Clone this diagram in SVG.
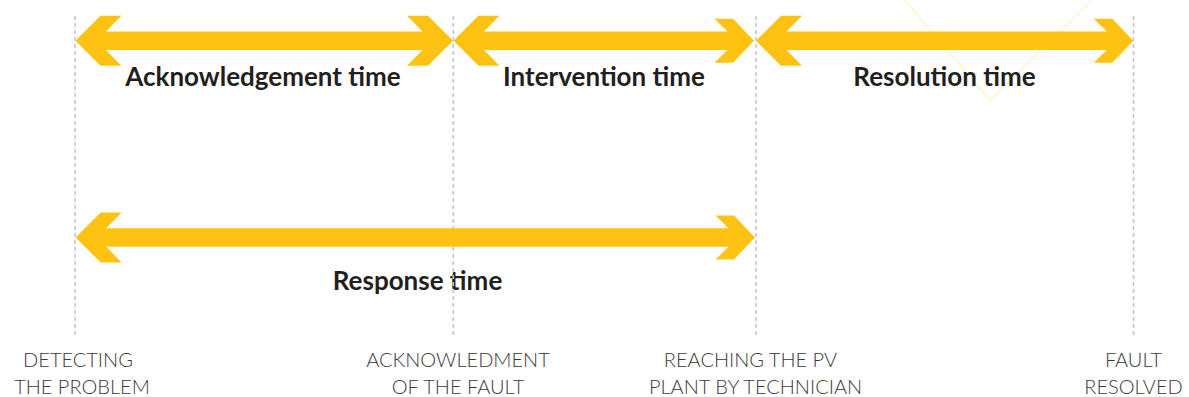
<svg xmlns="http://www.w3.org/2000/svg" width="1189" height="397" viewBox="0 0 1189 397">
<style>
.bg{fill:#ffffff}
.deco{fill:none;stroke:#fff3c6;stroke-width:1.2}
.guide{stroke:#c6c6c6;stroke-width:1.6;stroke-dasharray:4 3;fill:none}
.arrow{fill:#fec312}
.lbl{font-family:Lato,"Open Sans","Liberation Sans",sans-serif;font-weight:700;font-size:26px;fill:#231f20;text-anchor:middle}
.ev{font-family:Lato,"Open Sans","Liberation Sans",sans-serif;font-weight:300;font-size:20px;fill:#3a3a3a;text-anchor:middle}
</style>
<rect class="bg" x="0" y="0" width="1189" height="397"/>
<polyline class="deco" points="905,0 990,100 1092,0"/>
<g id="labels">
<text class="lbl" x="263" y="86">Acknowledgement time</text>
<text class="lbl" x="604" y="86">Intervention time</text>
<text class="lbl" x="944.5" y="86">Resolution time</text>
<text class="lbl" x="417.5" y="290">Response time</text>
</g>
<g id="connectors">
<line class="guide" x1="75" y1="16" x2="75" y2="336"/>
<line class="guide" x1="453.3" y1="16" x2="453.3" y2="336"/>
<line class="guide" x1="756" y1="16" x2="756" y2="336"/>
<line class="guide" x1="1133.5" y1="16" x2="1133.5" y2="336"/>
</g>
<g id="acknowledgement-arrow">
<polygon class="arrow" points="75.5,40.8 100.5,15.8 121.5,15.8 106,31.6 422.5,31.6 407,15.8 428,15.8 453,40.8 428,65.8 407,65.8 422.5,50 106,50 121.5,65.8 100.5,65.8"/>
</g>
<g id="intervention-arrow">
<polygon class="arrow" points="453.5,40.8 478.5,15.8 499.5,15.8 484,31.6 727.5,31.6 714.5,18.8 733,18.8 754,40.8 733,62.8 714.5,62.8 727.5,50 484,50 499.5,65.8 478.5,65.8"/>
</g>
<g id="resolution-arrow">
<polygon class="arrow" points="756,40.8 781,15.8 802,15.8 786.5,31.6 1106.8,31.6 1093.8,18.8 1112.3,18.8 1133.3,40.8 1112.3,62.8 1093.8,62.8 1106.8,50 786.5,50 802,65.8 781,65.8"/>
</g>
<g id="response-arrow">
<polygon class="arrow" points="75.7,237.5 100.7,212.5 121.7,212.5 106.2,228.3 728.5,228.3 715.5,215.5 734,215.5 755,237.5 734,259.5 715.5,259.5 728.5,246.7 106.2,246.7 121.7,262.5 100.7,262.5"/>
</g>
<g id="event-detecting">
<text class="ev" x="78" y="367"><tspan x="78">DETECTING</tspan><tspan x="82" dy="27">THE PROBLEM</tspan></text>
</g>
<g id="event-acknowledgment">
<text class="ev" x="458" y="367"><tspan x="458">ACKNOWLEDMENT</tspan><tspan x="458" dy="27">OF THE FAULT</tspan></text>
</g>
<g id="event-reaching">
<text class="ev" x="750.5" y="367"><tspan x="750.5">REACHING THE PV</tspan><tspan x="755.5" dy="27">PLANT BY TECHNICIAN</tspan></text>
</g>
<g id="event-resolved">
<text class="ev" x="1133.5" y="367"><tspan x="1133.5">FAULT</tspan><tspan x="1133.5" dy="27">RESOLVED</tspan></text>
</g>
</svg>
